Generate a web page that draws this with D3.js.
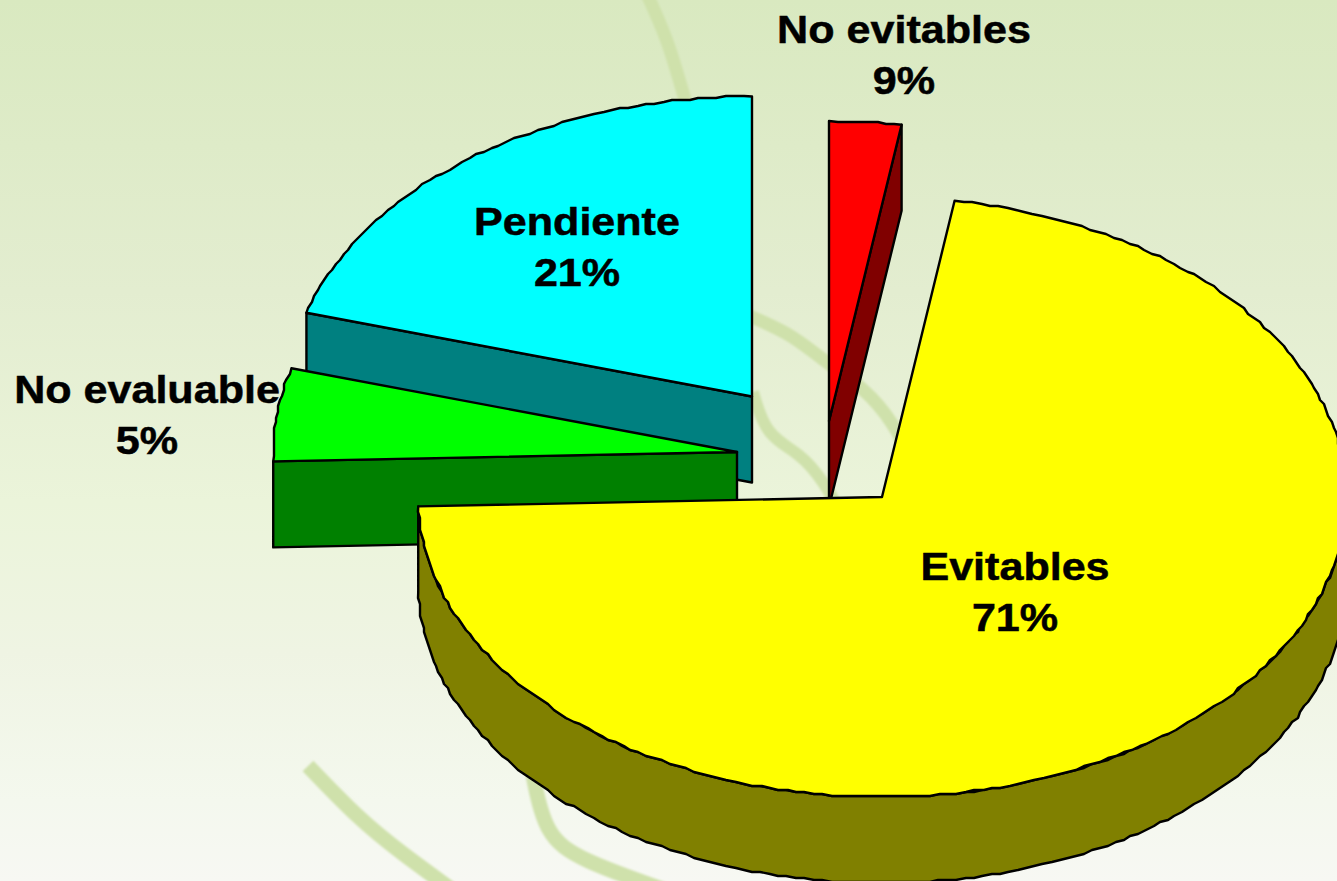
<!DOCTYPE html>
<html><head><meta charset="utf-8">
<script src="https://cdn.jsdelivr.net/npm/d3@7/dist/d3.min.js"></script>
<style>html,body{margin:0;padding:0;overflow:hidden;background:#fff}svg{display:block}
text{font-family:"Liberation Sans",Arial,sans-serif;font-weight:700;font-size:39px;text-anchor:middle;fill:#000;stroke:#000;stroke-width:.5px}</style>
</head><body><svg id="c" width="1337" height="881"></svg>
<script>
// Data, clockwise from 12 o'clock. Slice sizes are as drawn; the printed labels differ in the source.
const categories = ["No evitables", "Evitables", "No evaluable", "Pendiente"];
const drawnShare = [2.5, 72, 5, 20.5];
const labelText  = ["9%", "71%", "5%", "21%"];
const topColors  = ["#ff0000", "#ffff00", "#00ff00", "#00ffff"];
const sideColors = ["#800000", "#808000", "#008000", "#008080"];

const W = 1337, H = 881, RX = 464, RY = 300, DEPTH = 86;
// exploded slice apexes and label anchors
const apex = [[829,421],[882,497],[737,452],[752,396.5]];
const labelPos = [[904,43],[1015,580],[147,403],[577,235]];
const drawOrder = [3,0,2,1];

const svg = d3.select("#c");
const defs = svg.append("defs");
const g = defs.append("linearGradient").attr("id","bg").attr("x1",0).attr("y1",0).attr("x2",0).attr("y2",1);
[[0,"#d9e9c0"],[.33,"#e3edd0"],[.57,"#ebf4da"],[.74,"#eff4e3"],[.91,"#f4f8ee"],[1,"#f7f8f3"]].forEach(s=>g.append("stop").attr("offset",s[0]).attr("stop-color",s[1]));
defs.append("filter").attr("id","soft").append("feGaussianBlur").attr("stdDeviation",1);
svg.append("rect").attr("width",W).attr("height",H).attr("fill","url(#bg)");

// decorative swooshes of the slide background
const swoosh = d3.line().curve(d3.curveBasis);
const swooshes = svg.append("g").attr("filter","url(#soft)");
[
 [[[645,-10],[668,40],[682,90],[700,150]],13],
 [[[740,312],[790,333],[820,358],[867,390],[893,423],[910,455]],13],
 [[[753,392],[766,436],[800,453],[823,480],[845,520]],12],
 [[[308,766],[360,820],[400,852],[455,892]],15],
 [[[533,775],[545,835],[580,860],[665,890]],15],
].forEach(([pts,w])=>swooshes.append("path").attr("d",swoosh(pts)).attr("fill","none")
  .attr("stroke","#cfe1ab").attr("stroke-width",w));

const arcs = d3.pie().sort(null).startAngle(0).endAngle(2*Math.PI)(drawnShare);
const line = d3.line();
const snap = v => Math.round(v/2)*2;
// Point on a slice's rim, lightly snapped to mimic the source's stepped outline
const rim = (c,a,dy=0,s=true)=>{
  const x=c[0]+RX*Math.sin(a), y=c[1]-RY*Math.cos(a);
  return s?[snap(x),snap(y)+dy]:[x,y+dy];
};
const rimPts = (c,a0,a1,dy=0)=>{
  const n=Math.max(2,Math.ceil(Math.abs(a1-a0)*RX/9)), out=[];
  for(let i=0;i<=n;i++){const a=a0+(a1-a0)*i/n;out.push(rim(c,a,dy,i>0&&i<n));}
  return out;
};
const face = (sel,pts,fill)=>sel.append("path").attr("d",line(pts)+"Z").attr("fill",fill)
  .attr("stroke","#000").attr("stroke-width",2.4).attr("stroke-linejoin","round");

const marks = svg.append("g");
drawOrder.forEach(i=>{
  const d=arcs[i], c=apex[i], s=marks.append("g").attr("class","slice");
  const a0=d.startAngle, a1=d.endAngle;
  const walls=[];
  // outer wall, lower half of the rim only; slivers are covered by the radial wall
  const lo=Math.max(a0,Math.PI/2), hi=Math.min(a1,3*Math.PI/2);
  if(hi-lo>0.1) walls.push([...rimPts(c,lo,hi),...rimPts(c,hi,lo,DEPTH)]);
  // radial walls that face the viewer
  const radial=a=>{const e=rim(c,a,0,false);return [c,e,[e[0],e[1]+DEPTH],[c[0],c[1]+DEPTH]];};
  if(i===0) walls.push(radial(a1));
  if(i===2) walls.push(radial(a0));
  if(i===3) walls.push(radial(a0));
  walls.forEach(w=>face(s,w,sideColors[i]));
  face(s,[c,...rimPts(c,a0,a1)],topColors[i]);
});

const labels = svg.append("g");
const stretched = (t,x,y)=>labels.append("text").attr("transform",`translate(${x},${y}) scale(1.105,1)`).text(t);
categories.forEach((t,i)=>{
  const [x,y]=labelPos[i];
  stretched(t,x,y);
  stretched(labelText[i],x,y+51);
});
</script></body></html>
